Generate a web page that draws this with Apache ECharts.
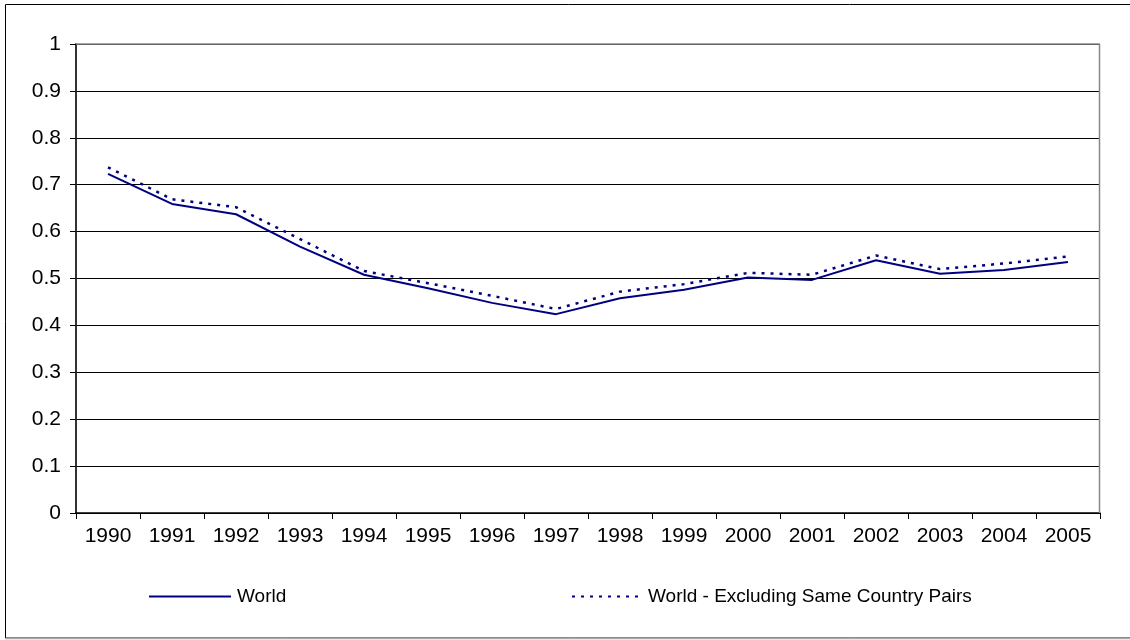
<!DOCTYPE html>
<html>
<head>
<meta charset="utf-8">
<script src="https://cdn.jsdelivr.net/npm/echarts@6/dist/echarts.min.js"></script>
<style>
html,body{margin:0;padding:0;background:#fff;}
#c{width:1130px;height:640px;}
</style>
</head>
<body>
<div id="c"></div>
<script>
const years = ['1990','1991','1992','1993','1994','1995','1996','1997','1998','1999','2000','2001','2002','2003','2004','2005'];
const world = [0.723,0.659,0.637,0.568,0.508,0.479,0.448,0.424,0.458,0.476,0.502,0.497,0.539,0.510,0.518,0.535];
const worldExcl = [0.737,0.669,0.652,0.584,0.516,0.490,0.463,0.435,0.472,0.488,0.512,0.508,0.549,0.520,0.532,0.547];
const yTicks = [0,0.1,0.2,0.3,0.4,0.5,0.6,0.7,0.8,0.9,1];

const chart = echarts.init(document.getElementById('c'), null, {renderer:'canvas'});
const font = 'Liberation Sans, Arial, sans-serif';
const navy = '#000080';
chart.setOption({
  animation:false,
  backgroundColor:'#fff',
  textStyle:{fontFamily:font},
  graphic:[
    {type:'rect', shape:{x:5.5,y:4.5,width:1130,height:633.5}, style:{fill:'none',stroke:'#000',lineWidth:1}, z:-1},
    {type:'line', shape:{x1:5,y1:638.5,x2:1130,y2:638.5}, style:{stroke:'#aaa',lineWidth:1.5}},
    {type:'line', shape:{x1:76,y1:44,x2:1100,y2:44}, style:{stroke:'#888',lineWidth:1.5}, z:10},
    {type:'line', shape:{x1:1099.5,y1:44,x2:1099.5,y2:513}, style:{stroke:'#888',lineWidth:1.5}, z:10}
  ],
  grid:{left:76,right:30,top:44,bottom:127,containLabel:false},
  legend:[
    {data:['World'], left:143, top:582, itemWidth:82, itemHeight:10, itemGap:0,
     itemStyle:{opacity:0},
     textStyle:{fontSize:19,color:'#000',fontFamily:font,padding:[0,0,0,1]}},
    {data:['World - Excluding Same Country Pairs'], left:566, top:582, itemWidth:70, itemHeight:10,
     itemStyle:{opacity:0},
     textStyle:{fontSize:19,color:'#000',fontFamily:font,padding:[0,0,0,1]}}
  ],
  xAxis:{
    type:'category', data:years, boundaryGap:true,
    axisLine:{lineStyle:{color:'#000',width:1.5}},
    axisTick:{show:true,length:6,lineStyle:{color:'#000'}},
    axisLabel:{fontSize:21,color:'#000',margin:13,fontFamily:font},
    splitLine:{show:false}
  },
  yAxis:{
    type:'value', min:0, max:1, interval:0.1,
    axisLine:{show:true,lineStyle:{color:'#333',width:2}},
    axisTick:{show:true,length:6,inside:false,lineStyle:{color:'#000'}},
    axisLabel:{fontSize:21,color:'#000',margin:15,fontFamily:font,
      formatter:function(v){ const t = yTicks.find(function(x){return Math.abs(x-v)<1e-9;}); return t===undefined?'':String(t);} },
    splitLine:{show:true,lineStyle:{color:'#000',width:1}}
  },
  series:[
    {name:'World', type:'line', data:world, symbol:'none',
     lineStyle:{color:navy,width:2}, itemStyle:{color:navy}},
    {name:'World - Excluding Same Country Pairs', type:'line', data:worldExcl, symbol:'none',
     lineStyle:{color:navy,width:2.5,type:[3,6]}, itemStyle:{color:navy}}
  ]
});
</script>
</body>
</html>
